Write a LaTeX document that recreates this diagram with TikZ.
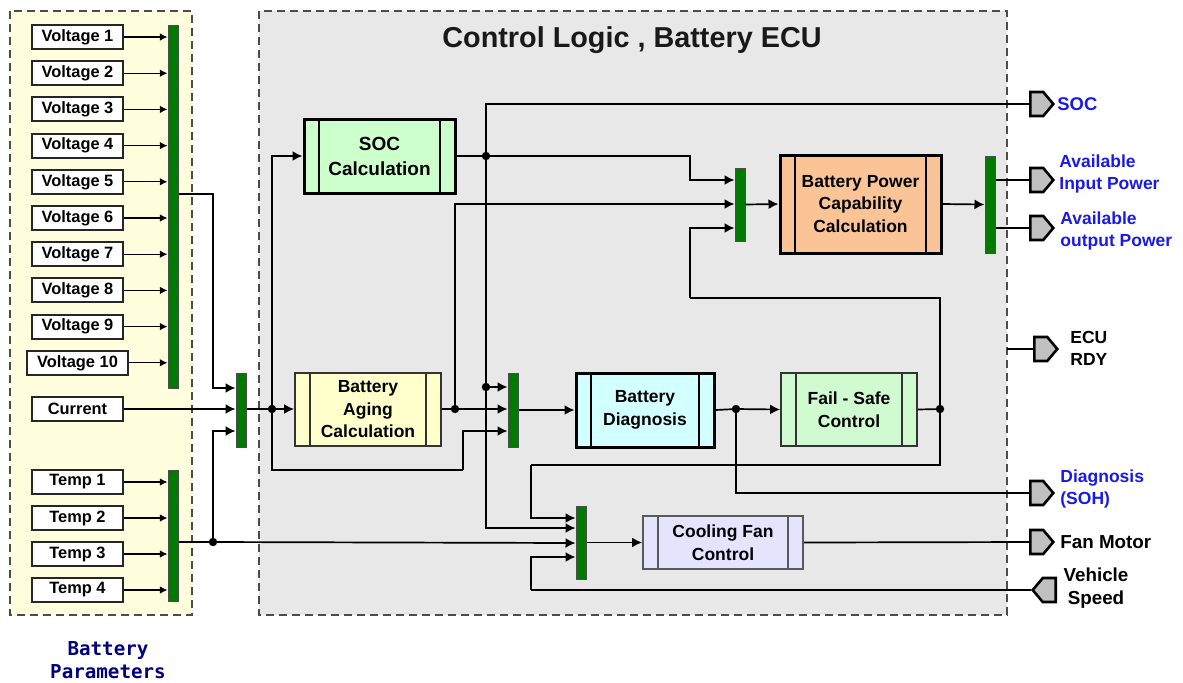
\documentclass[tikz,border=0pt]{standalone}
\usepackage{fontspec}
\setmainfont{Liberation Sans}
\newfontfamily\bpfont{DejaVu Sans Mono}
\usetikzlibrary{arrows.meta,shapes.symbols,calc}
\definecolor{panelY}{RGB}{255,255,222}
\definecolor{panelG}{RGB}{232,232,232}
\definecolor{busG}{RGB}{0,122,0}
\definecolor{socG}{RGB}{204,255,204}
\definecolor{ageY}{RGB}{255,255,204}
\definecolor{bpcO}{RGB}{250,196,150}
\definecolor{diagC}{RGB}{210,255,255}
\definecolor{fsG}{RGB}{208,250,208}
\definecolor{coolL}{RGB}{228,228,255}
\definecolor{outB}{RGB}{25,25,235}
\definecolor{navyT}{RGB}{0,0,128}
\definecolor{portG}{RGB}{192,192,192}
\begin{document}
\begin{tikzpicture}[x=0.5pt,y=-0.5pt,
  panel/.style={draw=black!70, dash pattern=on 4pt off 2.5pt, line width=0.6pt},
  bus/.style={draw=black!70, fill=busG, line width=0.5pt, minimum width=5pt, inner sep=0pt},
  lbl/.style={draw=black!85, fill=white, line width=1pt, minimum width=45.5pt, minimum height=12pt, inner sep=0pt, font=\bfseries\fontsize{8.2}{9}\selectfont},
  innerlines/.style={path picture={
    \draw[line width=#1] ([xshift=7.5pt]path picture bounding box.north west) -- ([xshift=7.5pt]path picture bounding box.south west)
      ([xshift=-7.5pt]path picture bounding box.north east) -- ([xshift=-7.5pt]path picture bounding box.south east);}},
  blockbase/.style={align=center, inner sep=0pt, font=\bfseries\fontsize{8.75}{11.25}\selectfont},
  heavy/.style={blockbase, draw=black, line width=1.5pt, innerlines=1.2pt},
  light/.style={blockbase, draw=black!80, line width=0.9pt, innerlines=0.7pt},
  wire/.style={line width=0.85pt},
  arr/.style={wire, -{Latex[length=5pt,width=5pt]}},
  sarr/.style={line width=0.65pt, -{Latex[length=3.8pt,width=3.8pt]}},
  port/.style={signal, signal from=nowhere, signal pointer angle=100, draw=black, line width=1.3pt, fill=portG, minimum width=11.5pt, minimum height=12pt, inner sep=0pt},
  outlbl/.style={align=left, inner sep=0pt, font=\bfseries\fontsize{8.75}{11}\selectfont},
  dot/.style={circle, fill=black, inner sep=0pt, minimum size=4.2pt}
]
\useasboundingbox (0,0) rectangle (1183,682);
% panels
\draw[panel, fill=panelY] (10,11) rectangle (192,615);
\draw[panel, fill=panelG] (259,11) rectangle (1007,615);
\node[font=\bfseries\fontsize{14.4}{16}\selectfont, text=black!90] (title) at (632,40) {Control Logic , Battery ECU};
\node[font=\bpfont\bfseries\fontsize{9.6}{11.5}\selectfont, text=navyT, align=center] (bp) at (108,660) {Battery\\Parameters};

% input boxes
\foreach \i/\y in {1/37,2/73.2,3/109.4,4/145.6,5/181.8,6/218,7/254.2,8/290.4,9/326.6}
  \node[lbl] (v\i) at (77.5,\y) {Voltage \i};
\node[lbl, minimum width=50.5pt] (v10) at (77.5,362.8) {Voltage 10};
\node[lbl] (cur) at (77.5,409) {Current};
\foreach \i/\y in {1/482,2/518,3/554,4/590}
  \node[lbl] (t\i) at (77.5,\y) {Temp \i};

% bus bars
\node[bus, minimum height=181.5pt] (vbus) at (173,206.5) {};
\node[bus, minimum height=65.5pt] (tbus) at (173,535.5) {};
\node[bus, minimum height=37pt] (mux1) at (241,410) {};
\node[bus, minimum height=37pt] (mux2) at (513,410) {};
\node[bus, minimum height=36.5pt] (bmux1) at (740,204.5) {};
\node[bus, minimum height=48.5pt] (bmux2) at (990,204.5) {};
\node[bus, minimum height=36.5pt] (cmux) at (581,542.5) {};

% blocks
\node[heavy, fill=socG, minimum width=75.5pt, minimum height=37pt, font=\bfseries\fontsize{9.5}{12.5}\selectfont] (soc) at (379.5,156) {SOC\\Calculation};
\node[light, fill=ageY, minimum width=73pt, minimum height=36.5pt] (aging) at (368,409.5) {Battery\\Aging\\Calculation};
\node[heavy, fill=bpcO, minimum width=80.5pt, minimum height=49pt] (bpc) at (860.5,204) {Battery Power\\Capability\\Calculation};
\node[heavy, fill=diagC, minimum width=69pt, minimum height=37pt] (diag) at (645,410) {Battery\\Diagnosis};
\node[light, fill=fsG, minimum width=68pt, minimum height=36.5pt] (fs) at (849,409.5) {Fail - Safe\\Control};
\node[light, fill=coolL, draw=black!65, minimum width=80pt, minimum height=26.5pt] (cool) at (723,542.5) {Cooling Fan\\Control};

% ports
\node[port, signal to=east, anchor=west] (psoc) at (1029,104) {};
\node[port, signal to=east, anchor=west] (pin) at (1029,180) {};
\node[port, signal to=east, anchor=west] (pout) at (1029,228) {};
\node[port, signal to=east, anchor=west] (pecu) at (1033,349) {};
\node[port, signal to=east, anchor=west] (pdiag) at (1029,493) {};
\node[port, signal to=east, anchor=west] (pfan) at (1029,542) {};
\node[port, signal to=west, anchor=west] (pveh) at (1031,590) {};

% port labels
\node[outlbl, text=outB, anchor=west, font=\bfseries\fontsize{9.2}{11}\selectfont] (lsoc) at (1057,104) {SOC};
\node[outlbl, text=outB, anchor=west] (lin) at (1059,174) {Available\\Input Power};
\node[outlbl, text=outB, anchor=west] (lout) at (1060,231) {Available\\output Power};
\node[outlbl, anchor=west] (lecu) at (1070,348) {ECU\\RDY};
\node[outlbl, text=outB, anchor=west] (ldiag) at (1060,489) {Diagnosis\\(SOH)};
\node[outlbl, anchor=west, font=\bfseries\fontsize{9.4}{11}\selectfont] (lfan) at (1060,542) {Fan Motor};
\node[outlbl, align=center, font=\bfseries\fontsize{9.4}{11.5}\selectfont] (lveh) at (1096,588.5) {Vehicle\\Speed};

% junction coordinates
\coordinate (vt) at (213,194);
\coordinate (td) at (213,542);
\coordinate (j1) at (272,409);
\coordinate (j2) at (455,409);
\coordinate (j3) at (486,156);
\coordinate (j4) at (486,387);
\coordinate (j5) at (736,409);
\coordinate (j6) at (940,409);
\coordinate (k1) at (463,470);
\coordinate (k2) at (690,156);
\coordinate (k3) at (690,298);
\coordinate (k4) at (531,465);
\coordinate (k5) at (531,590);
\coordinate (ecuL) at (1007,349);
\coordinate (m1a) at ($(mux1.west)+(0,-22)$);
\coordinate (m1c) at ($(mux1.west)+(0,21)$);
\coordinate (m2a) at ($(mux2.west)+(0,-23)$);
\coordinate (m2c) at ($(mux2.west)+(0,21)$);
\coordinate (b1a) at ($(bmux1.west)+(0,-24.5)$);
\coordinate (b1b) at ($(bmux1.west)+(0,-0.5)$);
\coordinate (b1c) at ($(bmux1.west)+(0,23.5)$);
\coordinate (c1) at ($(cmux.west)+(0,-24.5)$);
\coordinate (c2) at ($(cmux.west)+(0,-14.5)$);
\coordinate (c3) at ($(cmux.west)+(0,0.5)$);
\coordinate (c4) at ($(cmux.west)+(0,14.5)$);

% input arrows
\foreach \i in {1,...,10} \draw[sarr] (v\i.east) -- (v\i.east -| vbus.west);
\foreach \i in {1,...,4} \draw[sarr] (t\i.east) -- (t\i.east -| tbus.west);
\draw[arr] (vbus.east |- vt) -- (vt) |- (m1a);
\draw[arr] (cur.east) -- (cur.east -| mux1.west);
\draw[wire] (tbus.east |- td) -- (td);
\draw[arr] (td) |- (m1c);
\draw[arr] (td) -- (c3);
% aging / soc
\draw[wire] (mux1.east |- j1) -- (j1);
\draw[arr] (j1) -- (j1 -| aging.west);
\draw[arr] (j1) |- (soc.west);
\draw[wire] (j1) |- (k1);
\draw[arr] (k1) |- (m2c);
\draw[wire] (aging.east |- j2) -- (j2);
\draw[arr] (j2) -- (j2 -| mux2.west);
\draw[arr] (j2) |- (b1b);
\draw[wire] (soc.east |- j3) -- (j3);
\draw[arr] (j3) -- (k2) |- (b1a);
\draw[wire] (j3) |- (psoc.west);
\draw[wire] (j3) -- (j4);
\draw[arr] (j4) -- (m2a);
\draw[arr] (j4) |- (c2);
% diagnosis / fail-safe
\draw[arr] (mux2.east) -- (diag.west);
\draw[wire] (diag.east) -- (j5);
\draw[arr] (j5) -- (fs.west);
\draw[wire] (j5) |- (pdiag.west);
\draw[wire] (fs.east) -- (j6);
\draw[wire] (j6) |- (k3);
\draw[arr] (k3) |- (b1c);
\draw[wire] (j6) |- (k4);
\draw[arr] (k4) |- (c1);
% power capability
\draw[arr] (bmux1.east) -- (bpc.west);
\draw[arr] (bpc.east) -- (bmux2.west);
\draw[wire] (bmux2.east |- pin.west) -- (pin.west);
\draw[wire] (bmux2.east |- pout.west) -- (pout.west);
\draw[wire] (ecuL) -- (pecu.west);
% cooling
\draw[arr] (cmux.east) -- (cool.west);
\draw[wire] (cool.east) -- (pfan.west);
\draw[wire] (pveh.west) -- (k5);
\draw[arr] (k5) |- (c4);
% dots
\foreach \d in {td,j1,j2,j3,j4,j5,j6} \node[dot] at (\d) {};
\end{tikzpicture}
\end{document}
